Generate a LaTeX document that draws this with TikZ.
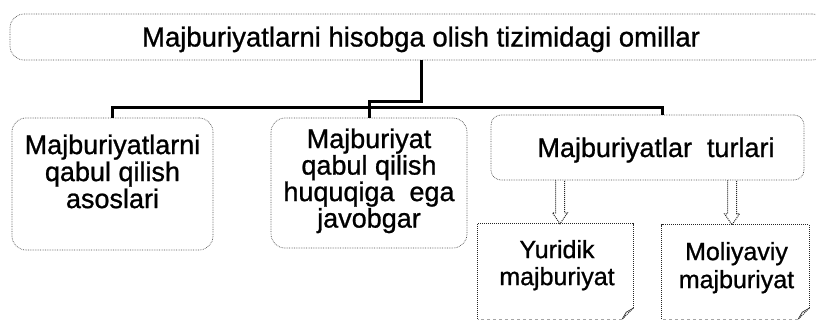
\documentclass[tikz,border=0pt]{standalone}
\usepackage{fontspec}
\setmainfont[FakeBold=0.9,AutoFakeBold=0.9]{Liberation Sans}
\usetikzlibrary{calc}
\begin{document}
\begin{tikzpicture}[x=1pt,y=-1pt,
  bar/.style={line width=3pt, black},
  frame/.style={draw=black!70, line width=0.7pt, densely dotted},
  rbox/.style={frame, rounded corners=14pt, inner sep=0pt},
  nbox/.style={draw=black!85, line width=1pt, densely dotted},
  dar/.style={draw=black!85, line width=1pt, densely dotted, line join=miter},
  txt/.style={inner sep=0pt, align=center, font=\bfseries\fontsize{#1}{27}\selectfont},
  txtb/.style={inner sep=0pt, align=center, font=\bfseries\fontsize{27}{26.5}\selectfont}]
\useasboundingbox (0,0) rectangle (816,322);
\clip (0,0) rectangle (816,322);
% boxes
\node[rbox, minimum width=816pt, minimum height=46pt] (top) at (418,37) {};
\node[rbox, minimum width=201pt, minimum height=132pt] (lbox) at (112.5,184) {};
\node[rbox, minimum width=196pt, minimum height=130pt] (mbox) at (369,183) {};
\node[rbox, rounded corners=10pt, minimum width=313pt, minimum height=65pt] (turl) at (647.5,147.5) {};
\node[inner sep=0pt, minimum width=155pt, minimum height=95pt] (yur) at (555.5,271.5) {};
\node[inner sep=0pt, minimum width=147pt, minimum height=94pt] (mol) at (735.5,272) {};
% texts
\node[txt=27.5, anchor=base] (toptext) at (421,46.5) {Majburiyatlarni hisobga olish tizimidagi omillar};
\node[txt=27, anchor=north] (ltext) at (112.5,134.3) {Majburiyatlarni\\qabul qilish\\asoslari};
\node[txtb, anchor=north] (mtext) at (369,128.3) {Majburiyat\\qabul qilish\\huquqiga\ \ ega\\javobgar};
\node[txt=27, anchor=base] (ttext) at (656,157) {Majburiyatlar\ \ turlari};
\node[txt=25, anchor=north] (ytext) at (557,239.8) {Yuridik\\majburiyat};
\node[font=\bfseries\fontsize{25}{28}\selectfont, inner sep=0pt, align=center, anchor=north] (motext) at (736.5,241.8) {Moliyaviy\\majburiyat};
% note-shaped boxes
\foreach \b in {yur,mol}{
  \draw[nbox] (\b.south west) -- (\b.north west) -- (\b.north east) -- ($(\b.south east)+(0,-11)$);
  \draw[nbox] ($(\b.south east)+(0,-11)$) -- ($(\b.south east)+(-11,0)$);
  \draw[black!80, line width=0.7pt] ($(\b.south east)+(0,-11)$) -- ($(\b.south east)+(-7,-7)$) -- ($(\b.south east)+(-11,0)$);
  \draw[black!35, line width=0.6pt, dashed] ($(\b.south east)+(-11,0)$) -- (\b.south west);
}
% connectors
\draw[bar] (lbox.north) -- (lbox.north |- 0,107) -- (662,107) -- (turl.north -| 662,0);
\draw[bar] (mbox.north) -- (mbox.north |- 0,101) -- (421,101) -- (top.south -| 421,0);
% hollow double arrows
\coordinate (a1) at (560,0);
\coordinate (a2) at (732,0);
\foreach \a/\b in {a1/yur,a2/mol}{
  \draw[dar] ($(turl.south -| \a)+(-4.5,0)$) -- ($(\b.north -| \a)+(-4.5,-11)$) -- ++(-3,0)
    -- (\b.north -| \a) -- ++(7.5,-11) -- ++(-3,0) -- ($(turl.south -| \a)+(4.5,0)$);
}
\end{tikzpicture}
\end{document}
